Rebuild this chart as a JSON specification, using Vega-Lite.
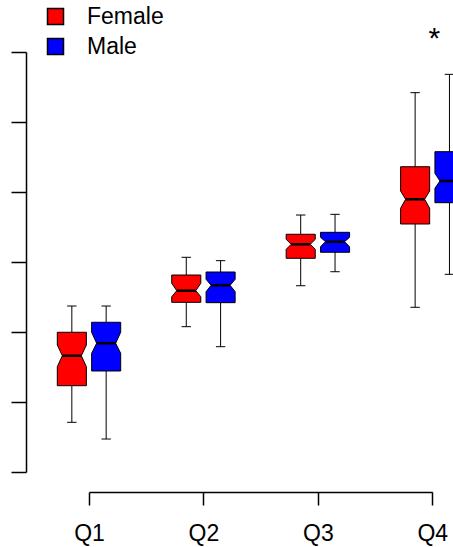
{
  "$schema": "https://vega.github.io/schema/vega-lite/v6.json",
  "width": 343.3,
  "height": 420,
  "autosize": {"type": "none"},
  "padding": {"left": 89, "top": 52, "right": 20.7, "bottom": 75},
  "background": "white",
  "config": {"view": {"stroke": null}, "font": "Liberation Sans"},
  "datasets": {
    "boxes": [
      {"quarter": "Q1", "sex": "Female", "lo": 0.71, "q1": 1.233, "nlo": 1.504, "med": 1.661, "nhi": 1.814, "q3": 1.996, "hi": 2.371},
      {"quarter": "Q1", "sex": "Male", "lo": 0.471, "q1": 1.443, "nlo": 1.696, "med": 1.839, "nhi": 1.996, "q3": 2.139, "hi": 2.371},
      {"quarter": "Q2", "sex": "Female", "lo": 2.076, "q1": 2.424, "nlo": 2.504, "med": 2.59, "nhi": 2.696, "q3": 2.814, "hi": 3.067},
      {"quarter": "Q2", "sex": "Male", "lo": 1.79, "q1": 2.419, "nlo": 2.576, "med": 2.667, "nhi": 2.753, "q3": 2.857, "hi": 3.019},
      {"quarter": "Q3", "sex": "Female", "lo": 2.661, "q1": 3.053, "nlo": 3.181, "med": 3.253, "nhi": 3.324, "q3": 3.396, "hi": 3.671},
      {"quarter": "Q3", "sex": "Male", "lo": 2.861, "q1": 3.139, "nlo": 3.219, "med": 3.29, "nhi": 3.353, "q3": 3.424, "hi": 3.681},
      {"quarter": "Q4", "sex": "Female", "lo": 2.353, "q1": 3.543, "nlo": 3.767, "med": 3.896, "nhi": 4.014, "q3": 4.361, "hi": 5.419},
      {"quarter": "Q4", "sex": "Male", "lo": 2.824, "q1": 3.847, "nlo": 4.053, "med": 4.157, "nhi": 4.267, "q3": 4.576, "hi": 5.681}
    ]
  },
  "data": {"name": "boxes"},
  "transform": [
    {"calculate": "indexof(['Q1','Q2','Q3','Q4'], datum.quarter) + 1", "as": "qi"},
    {"calculate": "datum.qi + (datum.sex === 'Female' ? -0.15 : 0.15)", "as": "cx"}
  ],
  "layer": [
    {
      "mark": {"type": "rule", "color": "black", "strokeWidth": 1},
      "encoding": {
        "x": {"field": "cx", "type": "quantitative",
          "scale": {"domain": [1, 4], "nice": false, "zero": false},
          "axis": {"values": [1, 2, 3, 4], "labelExpr": "'Q' + datum.value", "title": null, "grid": false, "offset": 20, "tickSize": 13, "labelFontSize": 23, "labelPadding": 17, "labelColor": "black", "labelFont": "Liberation Sans", "domainColor": "black", "tickColor": "black", "domainWidth": 1.5, "tickWidth": 1.5, "labelFlush": false}},
        "y": {"field": "lo", "type": "quantitative",
          "scale": {"domain": [0, 6], "nice": false, "zero": false},
          "axis": {"values": [0, 1, 2, 3, 4, 5, 6], "labels": false, "title": null, "grid": false, "offset": 63, "tickSize": 15, "domainColor": "black", "tickColor": "black", "domainWidth": 1.5, "tickWidth": 1.5}},
        "y2": {"field": "hi"}
      }
    },
    {
      "transform": [
        {"fold": ["lo", "hi"], "as": ["w", "wv"]},
        {"calculate": "datum.cx - 0.041", "as": "cl"},
        {"calculate": "datum.cx + 0.041", "as": "cr"}
      ],
      "mark": {"type": "rule", "color": "black", "strokeWidth": 1},
      "encoding": {
        "x": {"field": "cl", "type": "quantitative", "title": null},
        "x2": {"field": "cr"},
        "y": {"field": "wv", "type": "quantitative", "title": null}
      }
    },
    {
      "transform": [
        {"fold": ["q1", "nlo", "med", "nhi", "q3"], "as": ["stat", "v"]},
        {"calculate": "datum.stat === 'med' ? 0.044 : 0", "as": "inset"},
        {"calculate": "datum.cx - 0.127 + datum.inset", "as": "xl"},
        {"calculate": "datum.cx + 0.127 - datum.inset", "as": "xr"}
      ],
      "mark": {"type": "area", "orient": "horizontal", "stroke": "black", "strokeWidth": 1, "opacity": 1, "fillOpacity": 1},
      "encoding": {
        "y": {"field": "v", "type": "quantitative", "title": null},
        "x": {"field": "xl", "type": "quantitative", "title": null},
        "x2": {"field": "xr"},
        "detail": {"field": "quarter"},
        "color": {"field": "sex", "type": "nominal",
          "scale": {"domain": ["Female", "Male"], "range": ["#FF0000", "#0000FF"]},
          "legend": {"orient": "none", "legendX": -45, "legendY": -47, "title": null, "symbolType": "square", "symbolSize": 256, "symbolStrokeColor": "black", "symbolStrokeWidth": 1.5, "symbolOpacity": 1, "labelFontSize": 23, "labelOffset": 20, "rowPadding": 6, "padding": 0, "labelFont": "Liberation Sans", "labelColor": "black"}}
      }
    },
    {
      "transform": [
        {"calculate": "datum.cx - 0.127 + 0.044", "as": "ml"},
        {"calculate": "datum.cx + 0.127 - 0.044", "as": "mr"}
      ],
      "mark": {"type": "rule", "color": "black", "strokeWidth": 2.5},
      "encoding": {
        "x": {"field": "ml", "type": "quantitative", "title": null},
        "x2": {"field": "mr"},
        "y": {"field": "med", "type": "quantitative", "title": null}
      }
    },
    {
      "transform": [
        {"filter": "datum.quarter === 'Q4' && datum.sex === 'Male'"}
      ],
      "mark": {"type": "text", "text": "*", "fontSize": 30, "dx": 2, "dy": -26, "baseline": "alphabetic", "align": "center", "color": "black", "font": "Liberation Sans"},
      "encoding": {
        "x": {"field": "qi", "type": "quantitative", "title": null},
        "y": {"field": "hi", "type": "quantitative", "title": null}
      }
    }
  ]
}
